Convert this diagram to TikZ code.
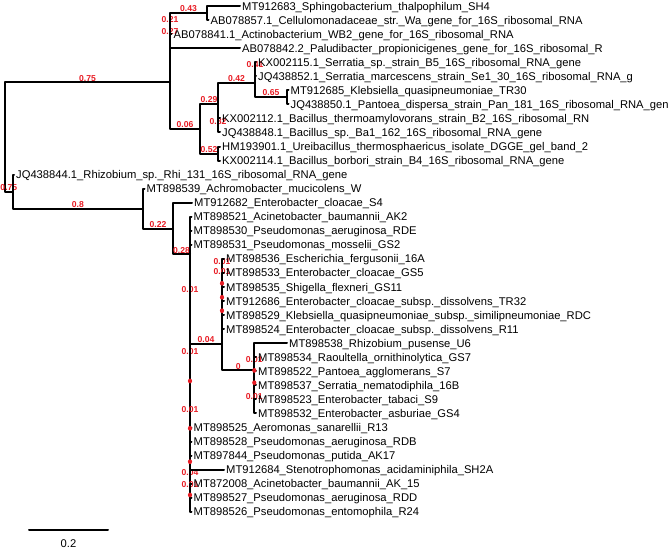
\documentclass[tikz,border=0pt]{standalone}
\usepackage{fontspec}
\setmainfont{Liberation Sans}
\usepackage{tikz}
\usetikzlibrary{shapes.geometric}
\definecolor{labred}{RGB}{232,28,36}
\newcommand{\rowy}[1]{6+14.05*(#1-1)}

\begin{document}
\begin{tikzpicture}[x=1pt,y=-1pt,
	branch/.style={line width=2pt, line cap=round, line join=round},
	tiplab/.style={anchor=base west, inner sep=0pt, xshift=2pt, yshift=-4pt,
		font=\fontsize{11.2}{13}\selectfont},
	lab/.style={pos=0.75, anchor=base, inner sep=0pt, yshift=1.4pt, text=labred,
		font=\fontsize{8.6}{10}\selectfont\bfseries},
	dot/.style={ellipse, fill=labred, inner sep=0pt, minimum width=4.2pt, minimum height=4.8pt}]
	\useasboundingbox (0,0) rectangle (669,549);

	% internal nodes of the upper clade
	\coordinate (R0) at (5,137);
	\coordinate (A) at (170,82.4);
	\coordinate (X) at (170,35.86);
	\coordinate (B) at (170,23.56);
	\coordinate (N43) at (207,13.03);
	\coordinate (C) at (200,128.94);
	\coordinate (D) at (218,104.35);
	\coordinate (F) at (255,83.28);
	\coordinate (H) at (255,69.23);
	\coordinate (I) at (287,97.33);
	\coordinate (G) at (218,125.43);
	\coordinate (E) at (218,153.53);
	% internal nodes of the lower clade
	\coordinate (R2) at (12.7,191.6);
	\coordinate (R3) at (143,208.6);
	\coordinate (R4) at (173,228.55);
	\coordinate (R5) at (190,254.4);
	\coordinate (Z1) at (190,293.5);
	\coordinate (Z2) at (190,355.5);
	\coordinate (Z3) at (190,381);
	\coordinate (Z4) at (190,413.5);
	\coordinate (Z5) at (190,428.3);
	\coordinate (Z6) at (190,461.7);
	\coordinate (Z7) at (190,476.8);
	\coordinate (Z8) at (190,488.8);
	\coordinate (Z9) at (190,495);
	\coordinate (R7) at (222,343.5);
	\coordinate (K1) at (222,265.5);
	\coordinate (K2) at (222,276.2);
	\coordinate (K3) at (222,283.3);
	\coordinate (K4) at (222,297.3);
	\coordinate (K5) at (222,310.7);
	\coordinate (R8) at (254.3,370.4);
	\coordinate (M1) at (254.3,363.8);
	\coordinate (M2) at (254.3,370.4);
	\coordinate (M3) at (254.3,382.7);
	\coordinate (M4) at (254.3,400.5);

	\draw[branch] (R0) |- node[lab] {0.75} (A);
	\draw[branch] (A) |- node[lab] {0.27} (X);
	\draw[branch] (X) |- node[lab] {0.21} (B);
	\draw[branch] (B) |- node[lab] {0.43} (N43);
	\draw[branch] (A) |- node[lab] {0.06} (C);
	\draw[branch] (C) |- node[lab] {0.29} (D);
	\draw[branch] (D) |- node[lab] {0.42} (F);
	\draw[branch] (F) |- node[lab] {0.41} (H);
	\draw[branch] (F) |- node[lab] {0.65} (I);
	\draw[branch] (D) |- node[lab] {0.82} (G);
	\draw[branch] (C) |- node[lab] {0.52} (E);

	\draw[branch] (R0) |- node[lab] {0.75} (R2);
	\draw[branch] (R2) |- node[lab] {0.8} (R3);
	\draw[branch] (R3) |- node[lab] {0.22} (R4);
	\draw[branch] (R4) |- node[lab] {0.28} (R5);
	\draw[branch] (R5) |- node[lab] {0.01} (Z1);
	\draw[branch] (Z1) |- node[lab] {0.01} (Z2);
	\draw[branch] (Z2) |- node[lab] {0.04} (R7);
	\draw[branch] (R7) |- node[lab] {0.01} (K1);
	\draw[branch] (K1) |- node[lab] {0.01} (K2);
	\draw[branch] (K2) |- (K3);
	\draw[branch] (K3) |- (K4);
	\draw[branch] (K4) |- (K5);
	\draw[branch] (R7) |- node[lab] {0} (R8);
	\draw[branch] (R8) |- node[lab] {0.01} (M1);
	\draw[branch] (R8) |- (M2);
	\draw[branch] (M2) |- (M3);
	\draw[branch] (M3) |- node[lab] {0.01} (M4);
	\draw[branch] (Z2) |- (Z3);
	\draw[branch] (Z3) |- node[lab] {0.01} (Z4);
	\draw[branch] (Z4) |- (Z5);
	\draw[branch] (Z5) |- (Z6);
	\draw[branch] (Z6) |- node[lab] {0.04} (Z7);
	\draw[branch] (Z7) |- node[lab] {0.01} (Z8);
	\draw[branch] (Z8) |- (Z9);

	% tips: row/parent/x/text
	\foreach \i/\p/\x/\txt in {
		1/N43/240/MT912683\_Sphingobacterium\_thalpophilum\_SH4,
		2/N43/208.5/AB078857.1\_Cellulomonadaceae\_str.\_Wa\_gene\_for\_16S\_ribosomal\_RNA,
		3/B/171.5/AB078841.1\_Actinobacterium\_WB2\_gene\_for\_16S\_ribosomal\_RNA,
		4/X/240/AB078842.2\_Paludibacter\_propionicigenes\_gene\_for\_16S\_ribosomal\_R,
		5/H/256/KX002115.1\_Serratia\_sp.\_strain\_B5\_16S\_ribosomal\_RNA\_gene,
		6/H/256/JQ438852.1\_Serratia\_marcescens\_strain\_Se1\_30\_16S\_ribosomal\_RNA\_g,
		7/I/288.5/MT912685\_Klebsiella\_quasipneumoniae\_TR30,
		8/I/288.5/JQ438850.1\_Pantoea\_dispersa\_strain\_Pan\_181\_16S\_ribosomal\_RNA\_gen,
		9/G/220/KX002112.1\_Bacillus\_thermoamylovorans\_strain\_B2\_16S\_ribosomal\_RN,
		10/G/220/JQ438848.1\_Bacillus\_sp.\_Ba1\_162\_16S\_ribosomal\_RNA\_gene,
		11/E/220/HM193901.1\_Ureibacillus\_thermosphaericus\_isolate\_DGGE\_gel\_band\_2,
		12/E/220/KX002114.1\_Bacillus\_borbori\_strain\_B4\_16S\_ribosomal\_RNA\_gene,
		13/R2/14/JQ438844.1\_Rhizobium\_sp.\_Rhi\_131\_16S\_ribosomal\_RNA\_gene,
		14/R3/144.5/MT898539\_Achromobacter\_mucicolens\_W,
		15/R4/192/MT912682\_Enterobacter\_cloacae\_S4,
		16/R5/191.5/MT898521\_Acinetobacter\_baumannii\_AK2,
		17/Z1/191.5/MT898530\_Pseudomonas\_aeruginosa\_RDE,
		18/Z2/191.5/MT898531\_Pseudomonas\_mosselii\_GS2,
		19/K1/224/MT898536\_Escherichia\_fergusonii\_16A,
		20/K2/224/MT898533\_Enterobacter\_cloacae\_GS5,
		21/K3/224/MT898535\_Shigella\_flexneri\_GS11,
		22/K4/224/MT912686\_Enterobacter\_cloacae\_subsp.\_dissolvens\_TR32,
		23/K5/224/MT898529\_Klebsiella\_quasipneumoniae\_subsp.\_similipneumoniae\_RDC,
		24/K5/224/MT898524\_Enterobacter\_cloacae\_subsp.\_dissolvens\_R11,
		25/M1/287/MT898538\_Rhizobium\_pusense\_U6,
		26/M1/256/MT898534\_Raoultella\_ornithinolytica\_GS7,
		27/M2/256/MT898522\_Pantoea\_agglomerans\_S7,
		28/M3/256/MT898537\_Serratia\_nematodiphila\_16B,
		29/M4/256/MT898523\_Enterobacter\_tabaci\_S9,
		30/M4/256/MT898532\_Enterobacter\_asburiae\_GS4,
		31/Z4/191.5/MT898525\_Aeromonas\_sanarellii\_R13,
		32/Z5/191.5/MT898528\_Pseudomonas\_aeruginosa\_RDB,
		33/Z6/191.5/MT897844\_Pseudomonas\_putida\_AK17,
		34/Z7/224/MT912684\_Stenotrophomonas\_acidaminiphila\_SH2A,
		35/Z8/191.5/MT872008\_Acinetobacter\_baumannii\_AK\_15,
		36/Z9/191.5/MT898527\_Pseudomonas\_aeruginosa\_RDD,
		37/Z9/191.5/MT898526\_Pseudomonas\_entomophila\_R24}{
		\coordinate (T\i) at (\x,{\rowy{\i}});
		\draw[branch] (\p) |- (T\i);
		\node[tiplab] at (T\i) {\txt};
	}

	% red marks on the zero-length nodes
	\foreach \n in {K3,K4,K5,M2,M3,Z3,Z5,Z6,Z9}
		\node[dot] at (\n) {};

	% scale bar
	\coordinate (S0) at (29,530);
	\coordinate (S1) at (108,530);
	\draw[branch] (S0) -- node[anchor=base, inner sep=0pt, yshift=-17pt,
		font=\fontsize{11.2}{13}\selectfont] {0.2} (S1);
\end{tikzpicture}
\end{document}
